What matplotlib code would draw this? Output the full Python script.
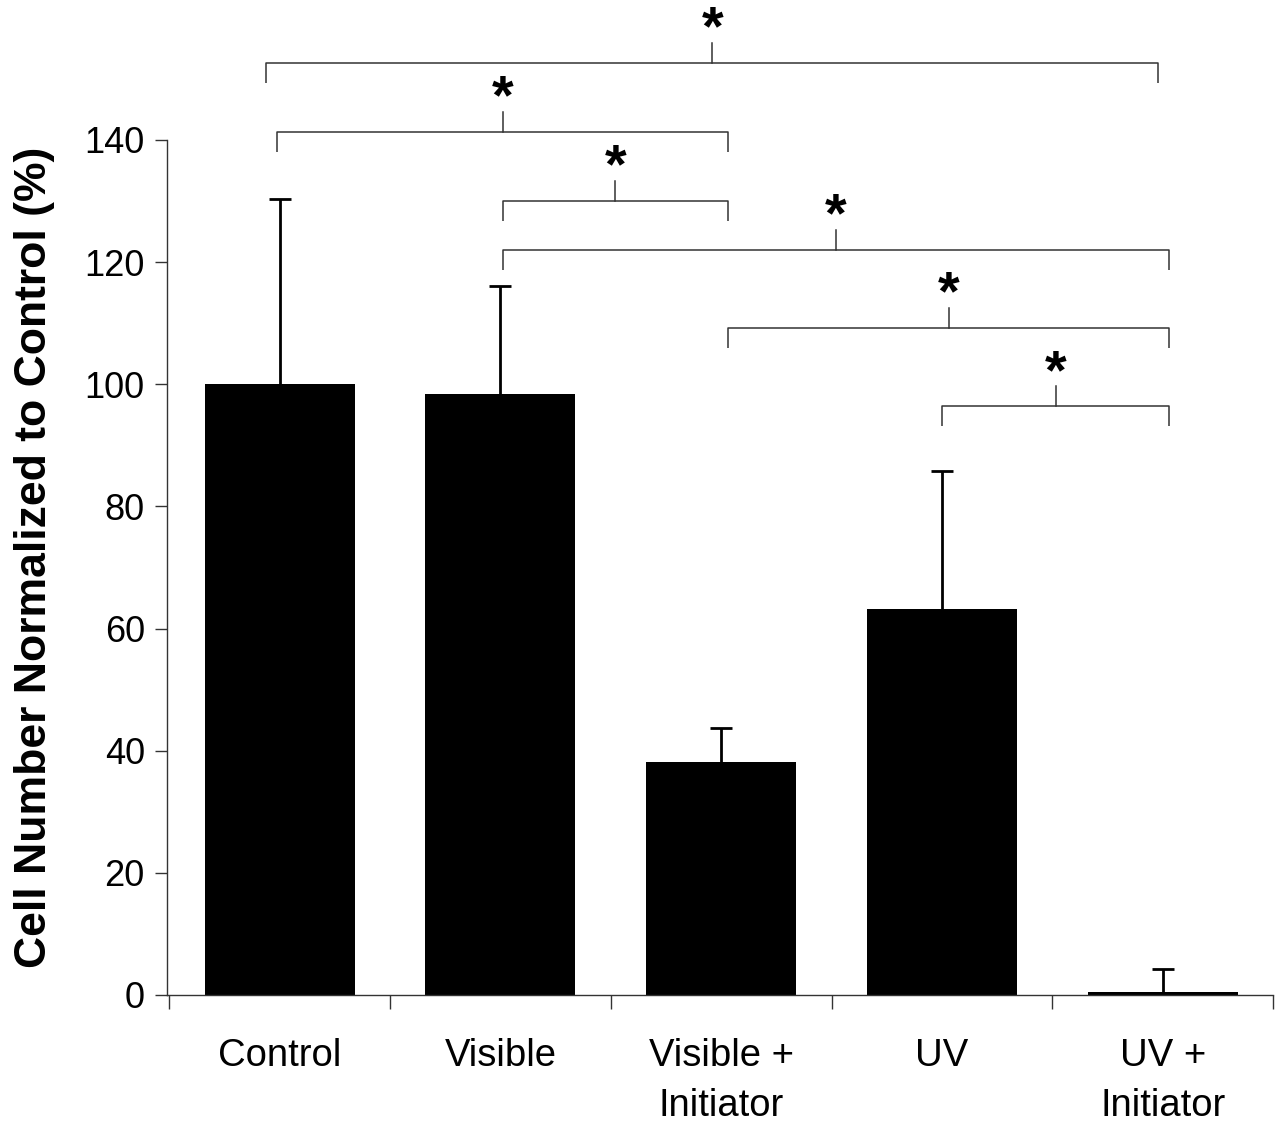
import matplotlib
matplotlib.use("Agg")
import matplotlib.pyplot as plt
import numpy as np

plt.rcParams['font.family'] = ['Liberation Sans', 'DejaVu Sans']

# Data
categories = ["Control", "Visible", "Visible +\nInitiator", "UV", "UV +\nInitiator"]
means = [100.0, 98.4, 38.2, 63.2, 0.5]
errors_up = [30.3, 17.7, 5.5, 22.6, 3.8]

# significance brackets: (left x, right x, line height)
brackets = [
    (-0.06, 3.98, 152.6),
    (-0.01, 2.03, 141.3),
    (1.01, 2.03, 130.0),
    (1.01, 4.03, 122.0),
    (2.03, 4.03, 109.2),
    (3.00, 4.03, 96.4),
]

fig = plt.figure(figsize=(12.86, 11.23), dpi=100)
ax = fig.add_axes([0.1299, 0.114, 0.8601, 0.886])

x = np.arange(len(categories))
ax.bar(x, means, width=0.68, color="black", zorder=2)

# upper-only error bars with a cap at the top
tops = np.array(means) + np.array(errors_up)
ax.vlines(x, means, tops, color="black", lw=2.0, zorder=3)
ax.hlines(tops, x - 0.05, x + 0.05, color="black", lw=2.0, zorder=3)

# brackets with stars
leg = 3.3
for x0, x1, h in brackets:
    xm = (x0 + x1) / 2
    ax.plot([x0, x0, x1, x1], [h - leg, h, h, h - leg], color="#333333", lw=1.1,
            solid_capstyle="butt", clip_on=False)
    ax.plot([xm, xm], [h, h + leg], color="#333333", lw=1.1, clip_on=False)
    ax.text(xm, h + 5.3, "*", ha="center", va="center", fontsize=40,
            fontweight="bold")

ax.set_xlim(-0.51, 4.49)
ax.set_ylim(0, 162.9)
ax.spines["top"].set_visible(False)
ax.spines["right"].set_visible(False)
ax.spines["left"].set_bounds(0, 140)
for s in ("left", "bottom"):
    ax.spines[s].set_linewidth(1.0)
    ax.spines[s].set_color("#333333")

ax.set_yticks(np.arange(0, 141, 20))
ax.tick_params(axis="y", direction="out", length=9, width=1.0, labelsize=26,
               pad=7, color="#333333")

ax.set_xticks(x)
ax.set_xticklabels(categories, fontsize=27.5, linespacing=1.5)
ax.set_xticks(np.arange(-0.5, 5.0, 1.0), minor=True)
ax.tick_params(axis="x", which="major", length=0, pad=31)
ax.tick_params(axis="x", which="minor", direction="out", length=10, width=1.0,
               color="#333333")

ax.set_ylabel("Cell Number Normalized to Control (%)", fontsize=32,
              fontweight="bold")
ax.yaxis.set_label_coords(-0.101, 0.44)

fig.savefig("out.png", dpi=100)
